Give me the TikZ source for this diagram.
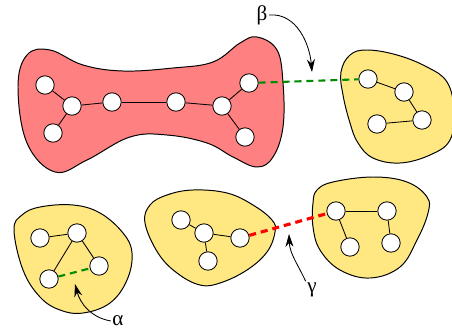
\documentclass[tikz,border=0pt]{standalone}
\usepackage{fontspec}
\newfontfamily\greekfont{Liberation Serif}
\usepackage{tikz}
\usetikzlibrary{arrows.meta,positioning,calc}
\usepackage{xcolor}
\definecolor{blobred}{RGB}{255,128,128}
\definecolor{blobyellow}{RGB}{255,232,130}
\definecolor{linkgreen}{RGB}{0,140,0}
\definecolor{linkred}{RGB}{255,0,0}

\begin{document}
\begin{tikzpicture}[
    x=0.025cm, y=-0.025cm,
    vertex/.style={circle, draw, fill=white, line width=0.6pt, minimum size=0.46cm, inner sep=0pt},
    edge/.style={line width=0.6pt},
    blob/.style={draw, line width=0.7pt, smooth cycle, tension=0.65},
    glink/.style={linkgreen, line width=1.5pt, dash pattern=on 5pt off 3.5pt},
    rlink/.style={linkred, line width=2.2pt, dash pattern=on 5pt off 3.5pt},
    pointer/.style={-{Stealth[length=3.2mm, width=2mm]}, line width=0.6pt},
    lbl/.style={font=\greekfont\fontsize{15}{15}\selectfont, inner sep=1pt}
]
    \useasboundingbox (0,0) rectangle (452,334);

    % Clusters
    \draw[blob, fill=blobred] plot coordinates {(27,55) (18,87) (27,143) (55,172) (87,160) (130,137)
        (167,135) (207,143) (233,157) (257,167) (273,157) (283,127) (283,83) (277,50) (257,37)
        (240,43) (213,62) (173,68) (123,71) (83,65) (50,50)};
    \draw[blob, fill=blobyellow] plot coordinates {(341,72) (350,55) (367,50) (397,55) (427,67)
        (447,82) (454,110) (450,140) (430,155) (400,163) (373,158) (358,143) (350,123) (343,95)};
    \draw[blob, fill=blobyellow] plot coordinates {(14,230) (22,215) (40,207) (73,205) (100,213)
        (123,233) (132,253) (127,280) (110,303) (83,313) (60,310) (40,297) (23,270)};
    \draw[blob, fill=blobyellow] plot coordinates {(145,223) (150,205) (167,195) (193,190) (227,193)
        (253,205) (272,220) (275,232) (267,252) (247,270) (220,283) (200,285) (177,273) (158,253)};
    \draw[blob, fill=blobyellow] plot coordinates {(313,203) (317,190) (333,182) (373,177) (407,182)
        (427,197) (428,213) (417,240) (400,267) (370,278) (340,270) (320,250) (313,227)};

    % Red cluster vertices
    \foreach \n/\p in {r1/{(45,85)}, r2/{(72,106)}, r3/{(53,133)}, r4/{(112,102)},
                       r5/{(176,102)}, r6/{(222,106)}, r7/{(249,83)}, r8/{(245,137)}}
        \node[vertex] (\n) at \p {};
    \foreach \a/\b in {r1/r2, r2/r3, r2/r4, r4/r5, r5/r6, r6/r7, r6/r8}
        \draw[edge] (\a) -- (\b);

    % Top right cluster
    \foreach \n/\p in {t1/{(368,79)}, t2/{(404,92)}, t3/{(422,120)}, t4/{(377,124)}}
        \node[vertex] (\n) at \p {};
    \foreach \a/\b in {t1/t2, t2/t3, t3/t4}
        \draw[edge] (\a) -- (\b);

    % Bottom left cluster
    \foreach \n/\p in {a1/{(40,238)}, a2/{(77,233)}, a3/{(99,266)}, a4/{(49,279)}}
        \node[vertex] (\n) at \p {};
    \foreach \a/\b in {a1/a2, a2/a3, a2/a4}
        \draw[edge] (\a) -- (\b);

    % Bottom middle cluster
    \foreach \n/\p in {m1/{(181,220)}, m2/{(204,233)}, m3/{(240,238)}, m4/{(208,261)}}
        \node[vertex] (\n) at \p {};
    \foreach \a/\b in {m1/m2, m2/m3, m2/m4}
        \draw[edge] (\a) -- (\b);

    % Bottom right cluster
    \foreach \n/\p in {b1/{(336,211)}, b2/{(387,211)}, b3/{(350,247)}, b4/{(391,243)}}
        \node[vertex] (\n) at \p {};
    \foreach \a/\b in {b1/b2, b1/b3, b2/b4}
        \draw[edge] (\a) -- (\b);

    % Dashed links
    \draw[glink] (r7) -- (t1);
    \draw[glink] (a4) -- (a3);
    \draw[rlink] (m3) -- (b1);

    % Labels and pointers
    \node[lbl] (beta) at (262,15) {β};
    \coordinate (betatip) at (312,72);
    \draw[pointer] (beta.east) to[out=5, in=95] (betatip);

    \node[lbl] (alpha) at (118,321) {α};
    \coordinate (alphatip) at (75,284);
    \draw[pointer] (alpha.west) to[out=170, in=-75] (alphatip);

    \node[lbl] (gamma) at (312,290) {γ};
    \coordinate (gammatip) at (289,234);
    \draw[pointer] (gamma.north west) to[out=115, in=-88] (gammatip);
\end{tikzpicture}
\end{document}
